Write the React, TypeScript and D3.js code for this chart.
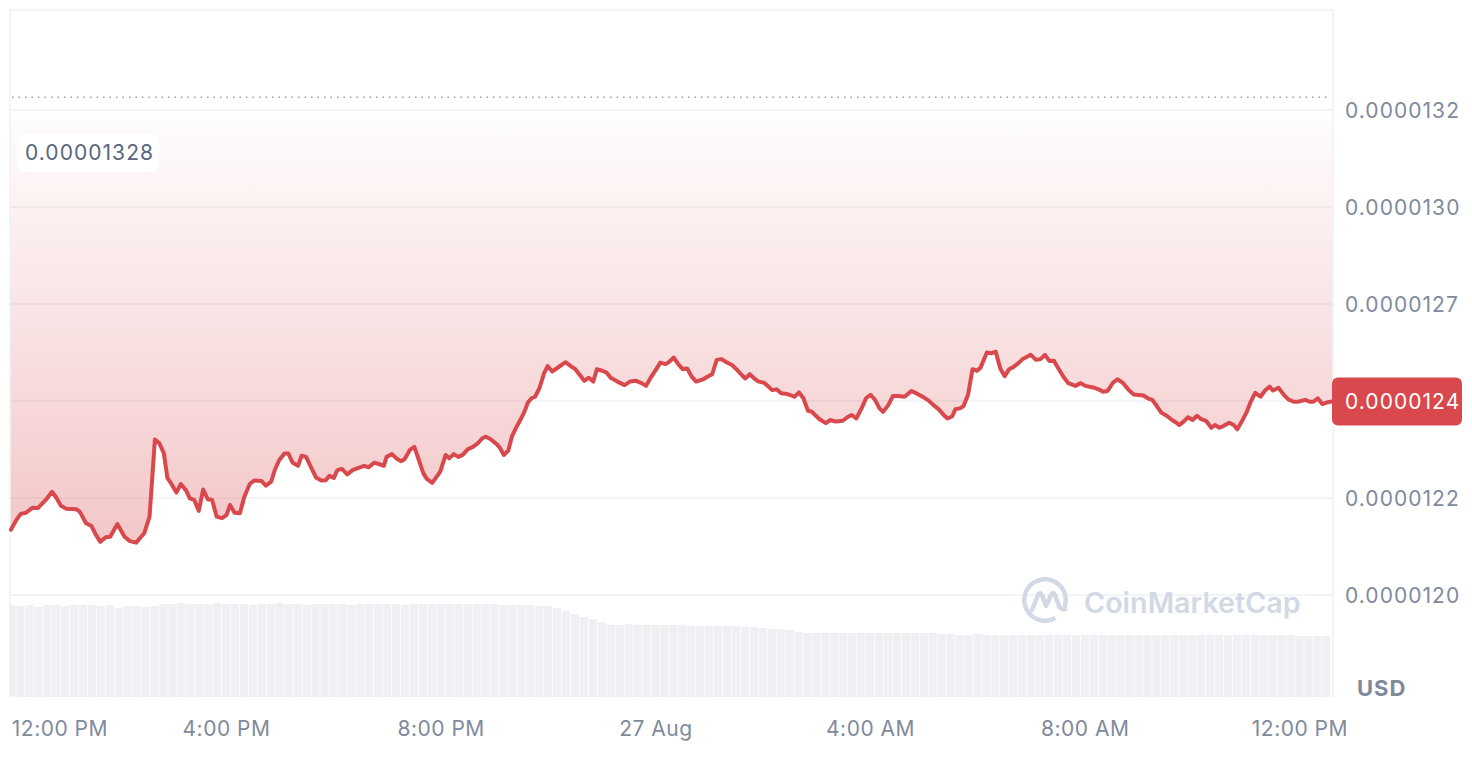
import React from "react";
import * as d3 from "d3";

// Prices are stored in units of 1e-8 USD; time is minutes after 12:00 PM, 26 Aug
const PRICE_UNIT = 1e-8;
const START = new Date(2024, 7, 26, 12, 0);
const DOMAIN_START_MIN = -2;
const DOMAIN_END_MIN = 1477;

const pricePoints: [number, number][] = [
  [-1, 1211.8], [5, 1214.3], [10, 1215.9], [16, 1216.2], [23, 1217.5], [29, 1217.4], [38, 1219.5], [45, 1221.6],
  [50, 1220.0], [55, 1218.0], [61, 1217.2], [72, 1217.1], [76, 1216.5], [83, 1213.5], [89, 1212.8], [94, 1210.5],
  [99, 1208.7], [105, 1209.9], [110, 1210.0], [118, 1213.3], [126, 1210.0], [132, 1208.9], [139, 1208.5], [148, 1210.9],
  [154, 1215.2], [160, 1235.1], [165, 1234.1], [170, 1231.5], [174, 1225.1], [178, 1223.8], [184, 1221.4], [189, 1223.6],
  [195, 1221.9], [199, 1219.9], [204, 1219.5], [209, 1216.7], [214, 1222.2], [219, 1219.7], [224, 1219.5], [229, 1215.2],
  [235, 1214.8], [240, 1215.6], [244, 1218.2], [249, 1216.2], [255, 1216.1], [260, 1220.3], [266, 1223.6], [271, 1224.5],
  [279, 1224.4], [284, 1223.2], [290, 1224.2], [294, 1227.2], [299, 1229.8], [305, 1231.5], [309, 1231.5], [314, 1229.1],
  [320, 1228.3], [324, 1230.9], [329, 1230.6], [335, 1227.7], [340, 1225.3], [346, 1224.5], [351, 1224.6], [355, 1225.7],
  [360, 1225.2], [364, 1227.2], [369, 1227.5], [375, 1226.1], [381, 1227.2], [389, 1227.9], [394, 1228.3], [399, 1227.9],
  [405, 1229.1], [411, 1228.7], [416, 1228.3], [419, 1230.6], [425, 1231.3], [430, 1230.2], [435, 1229.5], [439, 1230.0],
  [445, 1232.4], [450, 1233.2], [455, 1229.8], [460, 1226.4], [464, 1224.9], [470, 1223.9], [475, 1225.5], [479, 1226.8],
  [485, 1231.1], [489, 1230.2], [494, 1231.3], [499, 1230.6], [504, 1231.1], [510, 1232.6], [515, 1233.1], [521, 1234.1],
  [526, 1235.4], [530, 1235.8], [535, 1235.2], [542, 1233.9], [546, 1232.8], [550, 1231.1], [555, 1232.2], [559, 1235.8],
  [564, 1238.2], [568, 1239.9], [573, 1242.2], [577, 1244.6], [581, 1245.7], [585, 1246.1], [590, 1248.4], [595, 1252.1],
  [599, 1254.0], [604, 1252.6], [611, 1253.7], [619, 1255.0], [626, 1253.8], [630, 1253.2], [635, 1251.7], [640, 1250.2],
  [645, 1251.0], [650, 1250.0], [654, 1253.2], [660, 1252.8], [665, 1252.3], [670, 1250.9], [677, 1250.0], [685, 1249.1],
  [691, 1250.0], [698, 1250.2], [704, 1249.6], [709, 1248.9], [715, 1251.3], [721, 1253.4], [725, 1254.9], [731, 1254.5],
  [735, 1255.1], [740, 1256.2], [745, 1254.5], [750, 1253.2], [755, 1253.4], [760, 1251.3], [765, 1250.0], [773, 1250.6],
  [778, 1251.3], [783, 1251.9], [788, 1255.6], [793, 1255.8], [799, 1255.0], [805, 1254.3], [810, 1253.2], [816, 1251.7],
  [820, 1250.8], [825, 1251.9], [831, 1250.6], [835, 1250.0], [841, 1249.7], [845, 1248.9], [850, 1247.8], [855, 1248.0],
  [860, 1247.0], [867, 1246.8], [872, 1246.4], [875, 1246.1], [880, 1247.2], [885, 1245.7], [890, 1242.5], [894, 1242.3],
  [898, 1241.4], [903, 1240.3], [910, 1239.3], [915, 1240.1], [921, 1239.7], [929, 1239.9], [934, 1240.8], [939, 1241.4],
  [944, 1240.5], [950, 1243.1], [955, 1245.7], [960, 1246.6], [965, 1245.3], [970, 1243.1], [974, 1242.2], [980, 1244.0],
  [985, 1246.3], [991, 1246.3], [998, 1246.1], [1006, 1247.6], [1011, 1247.0], [1019, 1246.0], [1025, 1245.1], [1030, 1244.0],
  [1036, 1242.9], [1041, 1241.6], [1046, 1240.5], [1051, 1241.0], [1055, 1242.9], [1060, 1243.1], [1064, 1243.7], [1069, 1246.6],
  [1074, 1253.2], [1079, 1252.8], [1083, 1253.6], [1090, 1257.5], [1095, 1257.3], [1100, 1257.7], [1105, 1253.4], [1110, 1251.4],
  [1115, 1253.2], [1120, 1253.8], [1125, 1254.7], [1130, 1255.8], [1135, 1256.4], [1139, 1256.9], [1145, 1255.6], [1150, 1255.8],
  [1155, 1256.9], [1160, 1255.3], [1165, 1255.4], [1170, 1253.4], [1176, 1251.1], [1181, 1249.6], [1189, 1248.9], [1195, 1249.6],
  [1200, 1248.9], [1209, 1248.5], [1215, 1248.0], [1220, 1247.4], [1225, 1247.6], [1231, 1249.7], [1236, 1250.6], [1242, 1249.7],
  [1248, 1248.0], [1254, 1246.7], [1265, 1246.4], [1270, 1245.7], [1275, 1245.3], [1280, 1243.7], [1285, 1242.0], [1291, 1241.2],
  [1297, 1240.1], [1302, 1239.4], [1305, 1238.8], [1310, 1239.7], [1315, 1240.8], [1320, 1240.1], [1325, 1241.2], [1329, 1240.4],
  [1335, 1239.9], [1341, 1238.1], [1345, 1238.8], [1350, 1238.1], [1355, 1238.6], [1361, 1239.4], [1366, 1238.8], [1370, 1237.7],
  [1375, 1239.7], [1381, 1242.4], [1385, 1244.8], [1390, 1247.1], [1396, 1246.1], [1401, 1247.7], [1406, 1248.7], [1410, 1247.7],
  [1416, 1248.4], [1422, 1246.6], [1427, 1245.4], [1433, 1244.8], [1438, 1244.8], [1446, 1245.3], [1451, 1244.8], [1455, 1244.8],
  [1460, 1245.7], [1465, 1244.2], [1470, 1244.6], [1476, 1244.9],
];

// Volume per 10-minute bucket (arbitrary units), bucket i centred at minute i*10
const volumes: number[] = [
  9.2, 9.1, 9.2, 9.0, 9.2, 9.2, 9.1, 9.2, 9.2, 9.2, 9.1, 9.2, 8.9, 9.1, 9.1, 9.0, 9.1,
  9.3, 9.3, 9.4, 9.3, 9.3, 9.3, 9.4, 9.3, 9.3, 9.3, 9.2, 9.3, 9.3, 9.4, 9.3, 9.3,
  9.2, 9.3, 9.3, 9.3, 9.3, 9.2, 9.3, 9.3, 9.3, 9.3, 9.3, 9.2, 9.3, 9.3, 9.3, 9.3,
  9.3, 9.3, 9.3, 9.3, 9.3, 9.3, 9.2, 9.2, 9.2, 9.2, 9.1, 9.1,
  8.9, 8.6, 8.3, 8.0, 7.8, 7.5,
  7.2, 7.2, 7.3, 7.2, 7.2, 7.2, 7.2, 7.2, 7.2,
  7.1, 7.1, 7.1, 7.1, 7.1, 7.1, 7.0, 7.0,
  6.9, 6.8, 6.8, 6.7,
  6.5, 6.4, 6.4, 6.4, 6.4, 6.4, 6.4, 6.4, 6.4, 6.4, 6.4, 6.4, 6.4, 6.4, 6.4, 6.4, 6.3, 6.3,
  6.2, 6.2, 6.3, 6.2, 6.2, 6.2, 6.2, 6.2, 6.2, 6.2, 6.2, 6.2, 6.2, 6.2, 6.2, 6.2, 6.2, 6.2, 6.2, 6.2, 6.2,
  6.2, 6.2, 6.2, 6.2, 6.2, 6.2, 6.2, 6.2, 6.2, 6.2, 6.2, 6.2, 6.2, 6.2, 6.2, 6.2, 6.2, 6.1, 6.1, 6.1, 6.1,
];
const VOLUME_BUCKET_MIN = 10;

const yTickValues = [1195, 1220, 1245, 1270, 1295, 1320];
const yTickLabels = ["0.0000120", "0.0000122", "0.0000124", "0.0000127", "0.0000130", "0.0000132"];

const xTickMinutes = [0, 240, 480, 720, 960, 1200, 1440];
const xTickLabels = ["12:00 PM", "4:00 PM", "8:00 PM", "27 Aug", "4:00 AM", "8:00 AM", "12:00 PM"];

const referencePrice = 1323.3; // dotted reference line
const highLabel = "0.00001328";
const currencyLabel = "USD";

const toDate = (m: number) => new Date(START.getTime() + m * 60000);

const FONT = "Inter, 'Noto Sans', sans-serif";
const RED = "#d9484c";
const GRID = "#eff1f4";
const AXIS_TEXT = "#808a9d";

export default function App() {
  const W = 1472, H = 784;
  const left = 10, right = 1333, top = 10, bottom = 697;

  const x = d3.scaleTime().domain([toDate(DOMAIN_START_MIN), toDate(DOMAIN_END_MIN)]).range([left, right]);
  const y = d3.scaleLinear().domain([1195 * PRICE_UNIT, 1320 * PRICE_UNIT]).range([595, 110]);
  const vy = d3.scaleLinear().domain([0, 10]).range([bottom, bottom - 100]);

  const data = pricePoints.map(([m, p]) => ({ t: toDate(m), p: p * PRICE_UNIT }));
  const line = d3.line<{ t: Date; p: number }>().x(d => x(d.t)).y(d => y(d.p));
  const area = d3
    .area<{ t: Date; p: number }>()
    .x(d => x(d.t))
    .y0(y(referencePrice * PRICE_UNIT))
    .y1(d => y(d.p));

  const last = data[data.length - 1];
  const lastY = y(last.p);
  const lastLabel = d3.format(".7f")(last.p);

  const bars = volumes.map((v, i) => {
    const c = i * VOLUME_BUCKET_MIN;
    const x0 = Math.max(left, x(toDate(c - VOLUME_BUCKET_MIN / 2)));
    const x1 = Math.min(right, x(toDate(c + VOLUME_BUCKET_MIN / 2)));
    return { x0, x1, y: vy(v) };
  });

  const logoArc = d3.arc()({
    innerRadius: 18.5,
    outerRadius: 23,
    startAngle: (150 * Math.PI) / 180,
    endAngle: ((110 + 360) * Math.PI) / 180,
  } as any) as string;

  const numStyle = { fontFamily: FONT, fontSize: 21, letterSpacing: 1.05 };

  return (
    <svg width={W} height={H} style={{ position: "absolute", left: 0, top: 0, background: "#fff" }}>
      <defs>
        <linearGradient id="pf" gradientUnits="userSpaceOnUse" x1="0" y1={y(referencePrice * PRICE_UNIT)} x2="0" y2={560}>
          <stop offset="0" stopColor={RED} stopOpacity={0.0} />
          <stop offset="1" stopColor={RED} stopOpacity={0.32} />
        </linearGradient>
      </defs>

      {/* frame */}
      <line x1={left} x2={right} y1={top} y2={top} stroke={GRID} strokeWidth={1.5} />
      <line x1={left} x2={left} y1={top} y2={bottom} stroke={GRID} strokeWidth={1.5} />
      <line x1={right} x2={right} y1={top} y2={bottom} stroke={GRID} strokeWidth={1.5} />

      {/* gridlines */}
      {yTickValues.map(v => (
        <line key={v} x1={left} x2={right} y1={y(v * PRICE_UNIT)} y2={y(v * PRICE_UNIT)} stroke={GRID} strokeWidth={1.5} />
      ))}

      {/* volume */}
      {bars.map((b, i) => (
        <rect key={i} x={b.x0} y={b.y} width={Math.max(0, b.x1 - b.x0 - 0.7)} height={bottom - b.y} fill="#eff0f4" />
      ))}

      {/* price area + line */}
      <path d={area(data) || ""} fill="url(#pf)" />
      <path d={line(data) || ""} fill="none" stroke={RED} strokeWidth={4} strokeLinejoin="round" strokeLinecap="round" />

      {/* reference dotted line */}
      <line
        x1={left + 2}
        x2={right - 6}
        y1={y(referencePrice * PRICE_UNIT)}
        y2={y(referencePrice * PRICE_UNIT)}
        stroke="#9aa1ad"
        strokeWidth={1.5}
        strokeDasharray="1.5 5"
      />

      {/* high label */}
      <rect x={17} y={134} width={142} height={38} rx={8} fill="#fff" />
      <text x={25} y={160} {...numStyle} fill="#58667e">{highLabel}</text>

      {/* y tick labels */}
      {yTickValues.map((v, i) => (
        <text key={v} x={1345} y={y(v * PRICE_UNIT) + 7.5} {...numStyle} fill={AXIS_TEXT}>
          {yTickLabels[i]}
        </text>
      ))}
      <text x={1357} y={696} fontFamily={FONT} fontSize={22} fontWeight={700} letterSpacing={1} fill={AXIS_TEXT}>
        {currencyLabel}
      </text>

      {/* x tick labels */}
      {xTickMinutes.map((m, i) => (
        <text
          key={i}
          x={x(toDate(m))}
          y={736}
          textAnchor={i === 0 ? "start" : "middle"}
          fontFamily={FONT}
          fontSize={21}
          letterSpacing={0.5}
          fill={AXIS_TEXT}
        >
          {xTickLabels[i]}
        </text>
      ))}

      {/* watermark */}
      <g transform="translate(1045,600)" fill="none">
        <path d={logoArc} fill="#d3d8e5" />
        <path
          d="M-13,10 L-7,-5 Q-5,-9 -3,-5 L1,6 L6,-5 Q8,-9 10,-5 L14,6 Q16,10 20,9"
          stroke="#d3d8e5"
          strokeWidth={4.5}
          strokeLinecap="round"
          strokeLinejoin="round"
        />
      </g>
      <text x={1084} y={613} fontFamily={FONT} fontSize={28.7} fontWeight={600} fill="#d3d8e5">CoinMarketCap</text>

      {/* current price label */}
      <rect x={1332} y={lastY - 24} width={130} height={48} rx={6} fill={RED} />
      <text x={1345} y={lastY + 7.5} {...numStyle} fill="#fff">{lastLabel}</text>
    </svg>
  );
}
